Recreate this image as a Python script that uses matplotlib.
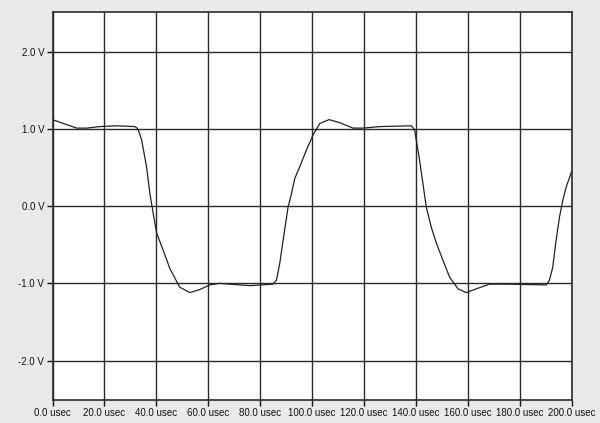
import matplotlib
matplotlib.use("Agg")
import matplotlib.pyplot as plt

# waveform (time in usec, level in volts)
t_usec = [0, 4.2, 9.3, 13.1, 18.3, 24.7, 31.7, 32.6, 33.3, 34.3, 36.2, 37.5, 38.8,
          40.1, 42.6, 45.2, 49.0, 52.9, 56.7, 60.6, 64.4, 72.1, 76.0, 84.9,
          86.2, 87.5, 88.8, 90.7, 92.0, 93.3, 95.2, 97.8, 100.3, 102.9, 106.5,
          110.6, 115.7, 119.5, 126.0, 138.2, 139.4, 141.3, 143.9, 145.8, 147.8,
          150.3, 152.9, 156.1, 159.3, 163.2, 168.3, 174.7, 190.1, 191.3, 192.6,
          193.9, 195.2, 196.5, 197.8, 200.0]
volts = [1.12, 1.07, 1.01, 1.01, 1.03, 1.04, 1.03, 1.01, 0.96, 0.86, 0.51, 0.16, -0.10,
         -0.35, -0.57, -0.81, -1.05, -1.12, -1.08, -1.02, -1.00, -1.02, -1.03, -1.01,
         -0.96, -0.74, -0.44, -0.01, 0.16, 0.36, 0.51, 0.73, 0.92, 1.07, 1.12,
         1.08, 1.01, 1.01, 1.03, 1.04, 0.99, 0.60, -0.01, -0.27, -0.48,
         -0.70, -0.92, -1.07, -1.12, -1.07, -1.01, -1.01, -1.02, -0.96, -0.79,
         -0.44, -0.14, 0.08, 0.25, 0.46]

x_ticks = [0, 20, 40, 60, 80, 100, 120, 140, 160, 180, 200]
x_labels = ["%.1f usec" % v for v in x_ticks]
y_ticks = [-2, -1, 0, 1, 2]
y_labels = ["%.1f V" % v for v in y_ticks]

plt.rcParams["font.family"] = ["Liberation Sans", "DejaVu Sans"]

fig = plt.figure(figsize=(6, 4.23), dpi=100, facecolor="#e9e9e9")
ax = fig.add_axes([0.0875, 0.0544, 0.8658, 0.9166])
ax.set_facecolor("white")

ax.plot(t_usec, volts, color="#222222", lw=0.9)

ax.set_xlim(0, 200)
ax.set_ylim(-2.51, 2.51)
ax.set_xticks(x_ticks)
ax.set_xticklabels(x_labels)
ax.set_yticks(y_ticks)
ax.set_yticklabels(y_labels)
ax.tick_params(labelsize=7, length=4, width=1, pad=2, colors="#111111")
ax.grid(True, color="#2a2a2a", lw=1)

for s in ax.spines.values():
    s.set_color("#2a2a2a")
    s.set_linewidth(1.2)

fig.savefig("out.png", dpi=100, facecolor=fig.get_facecolor())
